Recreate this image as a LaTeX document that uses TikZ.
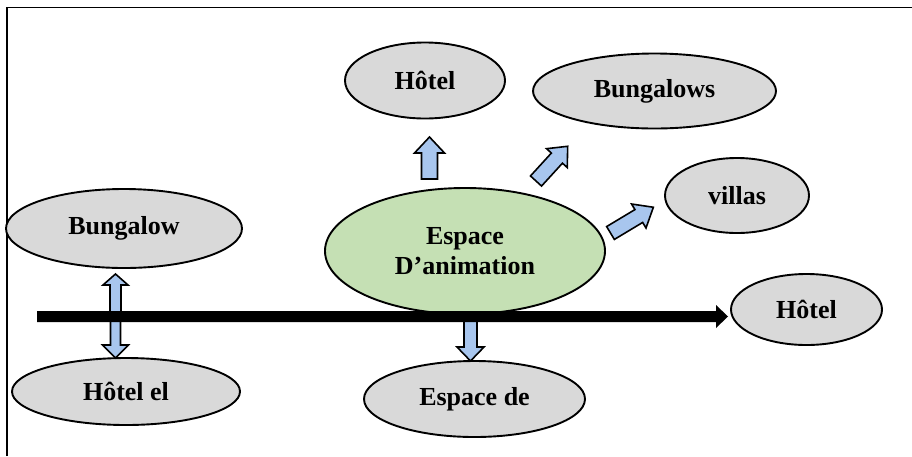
\documentclass[tikz,border=0pt]{standalone}
\usepackage{fontspec}
\setmainfont{Liberation Serif}
\usetikzlibrary{shapes.geometric}
\definecolor{ellgray}{HTML}{D9D9D9}
\definecolor{ellgreen}{HTML}{C5E0B4}
\definecolor{arrblue}{HTML}{A8C6EE}
\tikzset{
  oval/.style={ellipse, draw=black, line width=1.9pt, fill=ellgray, inner sep=0pt,
    font=\fontsize{26}{30}\selectfont\bfseries, align=center},
  blockarrow/.style={draw=black, line width=1.6pt, fill=arrblue, line join=miter},
}
\newcommand{\barrow}[7]{%
  \begin{scope}[shift={(#1,#2)},rotate=#3]
    \draw[blockarrow] (0,-#5) -- ({#4-#7},-#5) -- ({#4-#7},-#6) -- (#4,0)
      -- ({#4-#7},#6) -- ({#4-#7},#5) -- (0,#5) -- cycle;
  \end{scope}}
\begin{document}
\begin{tikzpicture}[x=1pt,y=1pt]
\useasboundingbox (0,0) rectangle (912,-456);
% frame
\draw[line width=1.8pt] (7,-456) -- (7,-7.5) -- (912,-7.5);
% ellipses
\node[oval, minimum width=160pt, minimum height=76pt] (hoteltop) at (425,-80.5) {Hôtel};
\node[oval, minimum width=243pt, minimum height=75pt] (bungalows) at (654.5,-91) {Bungalows};
\node[oval, minimum width=144pt, minimum height=75pt] (villas) at (737,-195.5) {villas};
\node[oval, minimum width=236pt, minimum height=79pt] (bungalow) at (124,-228.5) {Bungalow};
\node[oval, fill=ellgreen, minimum width=280pt, minimum height=126pt] (espace) at (465,-251) {Espace\\D’animation};
\node[oval, minimum width=151pt, minimum height=71pt] (hotelright) at (806.5,-309.5) {Hôtel};
\node[oval, minimum width=228pt, minimum height=67pt] (hotelel) at (126,-391.5) {Hôtel el};
\node[oval, minimum width=221pt, minimum height=76pt] (espacede) at (474.5,-399) {Espace de};
% block arrows
\barrow{429.5}{-179}{90}{42}{8}{15}{16}
\barrow{536}{-181}{47.6}{47}{7.5}{14}{16}
\barrow{610.5}{-233}{31}{50}{7.5}{14}{17}
\barrow{115.5}{-316}{90}{42}{5.5}{12.5}{11}
\barrow{115.5}{-316}{-90}{42}{5}{13}{13}
\barrow{470.5}{-316}{-90}{45}{6.5}{13.5}{14}
% main black arrow
\coordinate (axisstart) at (37,-316.5);
\fill[black] (axisstart) ++(0,5.5) -- (716,-311) -- (716,-305) -- (728,-316.5)
  -- (716,-328) -- (716,-322) -- (37,-322) -- cycle;
\end{tikzpicture}
\end{document}
